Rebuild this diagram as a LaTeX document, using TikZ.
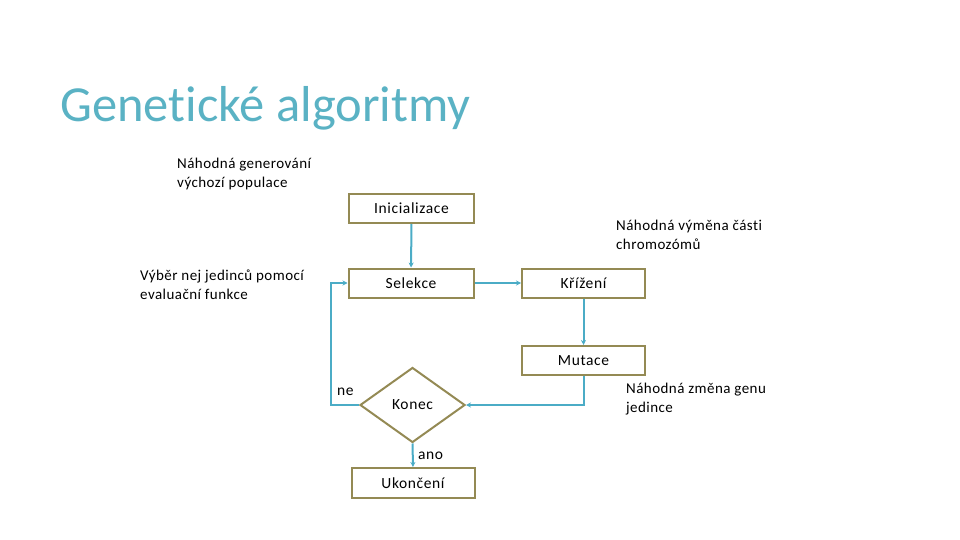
\documentclass[tikz,border=0pt]{standalone}
\usepackage{fontspec}
\setmainfont{Carlito}[Ligatures={NoCommon}]
\usetikzlibrary{shapes.geometric,arrows.meta,calc}
\definecolor{boxc}{RGB}{148,138,84}
\definecolor{arrc}{RGB}{75,172,198}
\definecolor{titc}{RGB}{90,178,196}
\newcommand{\boxfont}{\fontsize{15.5}{18}\selectfont\addfontfeatures{LetterSpace=4}}
\newcommand{\notefont}{\fontsize{15}{19}\selectfont\addfontfeatures{LetterSpace=3}}
\tikzset{
  stepbox/.style={draw=boxc,line width=2pt,minimum width=125pt,minimum height=29pt,inner sep=0pt,font=\boxfont},
  decbox/.style={draw=boxc,line width=2pt,diamond,minimum width=105pt,minimum height=75pt,inner sep=0pt,aspect=1.4,font=\boxfont},
  conn/.style={draw=arrc,line width=2pt,-{Stealth[length=5pt,width=5pt]}},
  note/.style={anchor=base west,align=left,inner sep=0pt,font=\notefont},
  lab/.style={anchor=base west,inner sep=0pt,font=\boxfont},
}
\begin{document}
\begin{tikzpicture}[x=1pt,y=-1pt]
\useasboundingbox (0,0) rectangle (960,540);
\node[anchor=base west,inner sep=0pt,text=titc,font=\fontsize{50.5}{60}\selectfont] (title) at (60,122) {Genetické algoritmy};
\node[stepbox] (init) at (411.5,208.5) {Inicializace};
\node[stepbox] (sel) at (411,283) {Selekce};
\node[stepbox,minimum width=123pt] (kriz) at (583.5,283) {Křížení};
\node[stepbox,minimum width=123pt] (mut) at (583.5,360.5) {Mutace};
\node[decbox] (konec) at (412.5,405) {Konec};
\node[stepbox,minimum width=123pt,minimum height=30pt] (ukon) at (413,483) {Ukončení};
\node[note] (n1) at (177,187) {Náhodná generování\\výchozí populace};
\node[note] (n2) at (140,299) {Výběr nej jedinců pomocí\\evaluační funkce};
\node[note] (n3) at (616,249) {Náhodná výměna části\\chromozómů};
\node[note] (n4) at (626,412) {Náhodná změna genu\\jedince};
\node[lab] (ne) at (337,395) {ne};
\node[lab] (ano) at (418,459) {ano};
\coordinate (loopc) at ($(sel.west)+(-17,0)$);
\draw[conn] (init) -- (sel);
\draw[conn] (sel) -- (kriz);
\draw[conn] (kriz) -- (mut);
\draw[conn] (mut.south) |- (konec.east);
\draw[conn] (konec.west) -| (loopc) -- (sel.west);
\draw[conn] (konec.south) -- (ukon.north);
\end{tikzpicture}
\end{document}
